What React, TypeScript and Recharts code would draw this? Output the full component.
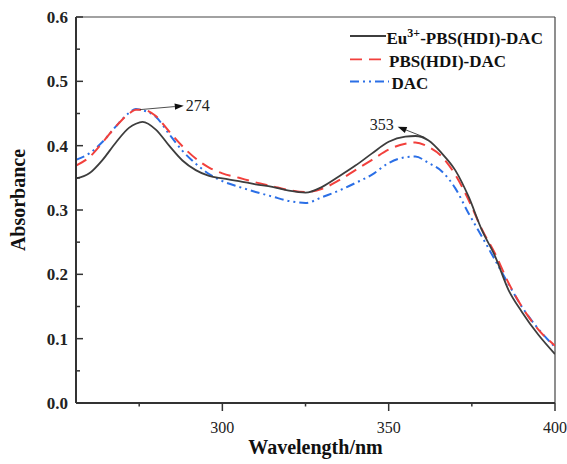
import React from 'react';
import { LineChart, Line, XAxis, YAxis, ReferenceLine, Legend } from 'recharts';

const wavelengths = [256, 260, 264, 268, 272, 274, 276, 280, 284, 288, 292, 296, 300, 305, 310, 315, 320, 325, 330, 335, 340, 345, 350, 355, 358, 362, 366, 370, 374, 378, 382, 386, 390, 395, 400];
const euValues = [0.349, 0.357, 0.378, 0.405, 0.428, 0.434, 0.437, 0.425, 0.400, 0.377, 0.362, 0.353, 0.349, 0.345, 0.340, 0.336, 0.330, 0.327, 0.336, 0.352, 0.369, 0.388, 0.406, 0.414, 0.415, 0.408, 0.388, 0.362, 0.321, 0.269, 0.228, 0.176, 0.142, 0.106, 0.076];
const pbsValues = [0.369, 0.382, 0.405, 0.430, 0.450, 0.456, 0.456, 0.446, 0.422, 0.399, 0.380, 0.366, 0.357, 0.350, 0.343, 0.337, 0.331, 0.328, 0.333, 0.346, 0.362, 0.378, 0.394, 0.403, 0.405, 0.398, 0.383, 0.355, 0.316, 0.270, 0.232, 0.187, 0.150, 0.114, 0.089];
const dacValues = [0.378, 0.388, 0.406, 0.430, 0.451, 0.457, 0.455, 0.445, 0.418, 0.392, 0.372, 0.356, 0.345, 0.336, 0.328, 0.321, 0.314, 0.311, 0.320, 0.330, 0.342, 0.355, 0.373, 0.382, 0.383, 0.373, 0.360, 0.334, 0.295, 0.259, 0.222, 0.185, 0.150, 0.115, 0.087];

const xMajorTicks = [300, 350, 400];
const xTicks = [275, 300, 325, 350, 375, 400];
const yMajorTicks = [0, 0.1, 0.2, 0.3, 0.4, 0.5, 0.6];
const yTicks = [0, 0.05, 0.1, 0.15, 0.2, 0.25, 0.3, 0.35, 0.4, 0.45, 0.5, 0.55, 0.6];

const seriesNames = ['Eu3+-PBS(HDI)-DAC', 'PBS(HDI)-DAC', 'DAC'];
const peakLabels = ['274', '353'];

const data = wavelengths.map((wl, i) => ({ wl, eu: euValues[i], pbs: pbsValues[i], dac: dacValues[i] }));

const FONT = 'Liberation Serif, serif';
const fontStyle = { fontFamily: FONT };
const AXIS = '#333';
const C_EU = '#3d3d3d';
const C_PBS = '#f2403c';
const C_DAC = '#2b6fe6';

const isMajor = (v: number, list: number[]) => list.some((m) => Math.abs(m - v) < 1e-6);

const XTick = (props: any) => {
  const { x, y, payload } = props;
  const major = isMajor(payload.value, xMajorTicks);
  return (
    <g>
      <line x1={x} x2={x} y1={y} y2={y + (major ? 8 : 3.5)} stroke={AXIS} strokeWidth={1.5} />
      {major && (
        <text x={x} y={y + 30} textAnchor="middle" style={fontStyle} fontSize={16} fill="#222">
          {payload.value}
        </text>
      )}
    </g>
  );
};

const YTick = (props: any) => {
  const { x, y, payload } = props;
  const major = isMajor(payload.value, yMajorTicks);
  return (
    <g>
      <line x1={x} x2={x + (major ? 7 : 4)} y1={y} y2={y} stroke={AXIS} strokeWidth={1.5} />
      {major && (
        <text x={x - 8} y={y + 6} textAnchor="end" style={fontStyle} fontSize={17} fontWeight="bold" fill="#222">
          {payload.value.toFixed(1)}
        </text>
      )}
    </g>
  );
};

const makeArrow = (label: string, textSide: 'right' | 'left') => (p: any) => {
  const { x1, y1, x2, y2 } = p;
  const ang = Math.atan2(y2 - y1, x2 - x1);
  const L = 9;
  const W = 3.2;
  const bx = x2 - L * Math.cos(ang);
  const by = y2 - L * Math.sin(ang);
  const px = -Math.sin(ang) * W;
  const py = Math.cos(ang) * W;
  return (
    <g>
      <line x1={x1} y1={y1} x2={bx} y2={by} stroke="#222" strokeWidth={0.8} />
      <polygon points={`${x2},${y2} ${bx + px},${by + py} ${bx - px},${by - py}`} fill="#111" />
      <text
        x={textSide === 'right' ? x2 + 2 : x2 - 4}
        y={textSide === 'right' ? y2 + 5 : y2 + 3}
        textAnchor={textSide === 'right' ? 'start' : 'end'}
        style={fontStyle}
        fontSize={16}
        fill="#222"
      >
        {label}
      </text>
    </g>
  );
};

const LegendContent = () => (
  <svg width={220} height={80} style={{ display: 'block', overflow: 'visible' }}>
    <line x1={10} x2={46} y1={16} y2={16} stroke={C_EU} strokeWidth={1.8} />
    <text x={46.5} y={24} style={fontStyle} fontSize={17} fontWeight="bold" fill="#111">
      <tspan>Eu</tspan>
      <tspan dy={-7} fontSize={12}>3+</tspan>
      <tspan dy={7}>-PBS(HDI)-DAC</tspan>
    </text>
    <line x1={10} x2={44} y1={39.3} y2={39.3} stroke={C_PBS} strokeWidth={1.8} strokeDasharray="12 7" />
    <text x={49} y={46.5} style={fontStyle} fontSize={17} fontWeight="bold" fill="#111">
      {seriesNames[1]}
    </text>
    <line x1={10} x2={49} y1={61.5} y2={61.5} stroke={C_DAC} strokeWidth={1.8} strokeDasharray="9 4 2 4 2 4" />
    <text x={51.5} y={68.5} style={fontStyle} fontSize={17} fontWeight="bold" fill="#111">
      {seriesNames[2]}
    </text>
  </svg>
);

export default function App() {
  return (
    <div style={{ position: 'absolute', left: 0, top: 0, width: 567, height: 464, background: '#fff' }}>
      <LineChart width={567} height={464} data={data} margin={{ top: 17, right: 12, bottom: 0, left: 0 }}>
        <XAxis
          type="number"
          dataKey="wl"
          domain={[256, 400]}
          ticks={xTicks}
          interval={0}
          tickSize={0}
          tickMargin={0}
          tickLine={false}
          height={61}
          axisLine={{ stroke: AXIS, strokeWidth: 2 }}
          tick={<XTick />}
          allowDataOverflow
          label={({ viewBox }: any) => (
            <text
              x={viewBox.x + viewBox.width / 2}
              y={viewBox.y + 50.5}
              textAnchor="middle"
              style={fontStyle}
              fontSize={20}
              fontWeight="bold"
              fill="#111"
            >
              Wavelength/nm
            </text>
          )}
        />
        <YAxis
          type="number"
          domain={[0, 0.6]}
          ticks={yTicks}
          interval={0}
          tickSize={0}
          tickMargin={0}
          tickLine={false}
          width={76}
          axisLine={{ stroke: AXIS, strokeWidth: 2 }}
          tick={<YTick />}
          allowDataOverflow
          label={({ viewBox }: any) => {
            const cx = viewBox.x + 25;
            const cy = viewBox.y + viewBox.height / 2 - 10;
            return (
              <text
                x={cx}
                y={cy}
                transform={`rotate(-90, ${cx}, ${cy})`}
                textAnchor="middle"
                style={fontStyle}
                fontSize={20}
                fontWeight="bold"
                fill="#111"
              >
                Absorbance
              </text>
            );
          }}
        />
        <ReferenceLine y={0.6} stroke="#444" strokeWidth={1.2} />
        <ReferenceLine x={400} stroke="#444" strokeWidth={1.2} />
        <Line type="monotone" dataKey="dac" name={seriesNames[2]} stroke={C_DAC} strokeWidth={2} strokeDasharray="9 4 2 4 2 4" dot={false} isAnimationActive={false} />
        <Line type="monotone" dataKey="pbs" name={seriesNames[1]} stroke={C_PBS} strokeWidth={2} strokeDasharray="12 7" dot={false} isAnimationActive={false} />
        <Line type="monotone" dataKey="eu" name={seriesNames[0]} stroke={C_EU} strokeWidth={1.8} dot={false} isAnimationActive={false} />
        <ReferenceLine
          segment={[{ x: 275.2, y: 0.456 }, { x: 288.4, y: 0.462 }]}
          shape={makeArrow(peakLabels[0], 'right')}
        />
        <ReferenceLine
          segment={[{ x: 360.8, y: 0.413 }, { x: 352.7, y: 0.4295 }]}
          shape={makeArrow(peakLabels[1], 'left')}
        />
        <Legend
          layout="vertical"
          align="center"
          verticalAlign="middle"
          content={<LegendContent />}
          wrapperStyle={{ position: 'absolute', left: 340, top: 20, width: 220, height: 80 }}
        />
      </LineChart>
    </div>
  );
}
